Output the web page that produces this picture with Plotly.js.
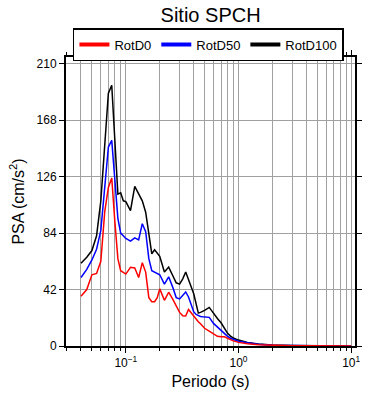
<!DOCTYPE html>
<html><head><meta charset="utf-8">
<script src="https://cdn.plot.ly/plotly-3.0.1.min.js"></script>
<style>html,body{margin:0;padding:0;background:#fff}#chart{width:390px;height:400px}</style>
</head><body><div id="chart"></div>
<script>
const periods = [0.04,0.045,0.05,0.055,0.06,0.065,0.07,0.075,0.08,0.085,0.09,0.095,0.1,0.11,0.12,0.13,0.14,0.15,0.16,0.17,0.18,0.19,0.2,0.22,0.24,0.26,0.28,0.3,0.32,0.34,0.36,0.38,0.4,0.42,0.44,0.46,0.48,0.5,0.55,0.6,0.65,0.7,0.75,0.8,0.85,0.9,1.0,1.2,1.5,2,3,4,5,7,10];
const rotD0 = [37,42,53,54,63,100,118,125,92,65,56,54.5,53.5,58.5,58,51,62,55,36,33,33,36,42.5,34,40,35,30,25,22.5,22.3,27.2,24.5,22,20,18,16.5,14.5,13.2,11,9,7.2,6.9,6.8,5.7,4.6,3.8,2.7,1.6,0.9,0.45,0.2,0.12,0.08,0.04,0.02];
const rotD50 = [51,57,64,72,86,120,148,153,122,95,84,82,80,78,80.5,79,91,85,65,56,55,53.5,53,46,51.5,44,36,35,38,40.2,36.5,31,25.5,23.5,22.5,22,21.8,21.7,21.3,16.8,14,11.5,9.5,7.2,5.8,4.9,3.6,2.4,1.3,0.6,0.25,0.15,0.1,0.05,0.03];
const rotD100 = [61.5,66,71,82,108,152,188,194,150,113,114,108,107.4,100.7,118.7,113,108,99.5,84,68.6,71.6,69,66.7,55,58.7,52.6,47,46,50,55,50,44,39,31,24.5,25,25.5,26.5,28.7,24.2,20.5,17.3,13,9.4,7.4,5.9,4.4,2.7,1.5,0.7,0.3,0.18,0.12,0.06,0.04];
const seriesNames = ['RotD0','RotD50','RotD100'];
const seriesColors = ['#ff0000','#0000ff','#000000'];
const xTickVals = [0.1,1,10];
const xTickText = ['10<sup>\u22121</sup>','10<sup>0</sup>','10<sup>1</sup>'];
const xMinorVals = [0.02,0.03,0.04,0.05,0.06,0.07,0.08,0.09,0.2,0.3,0.4,0.5,0.6,0.7,0.8,0.9,2,3,4,5,6,7,8,9];
const yTickVals = [0,42,84,126,168,210];

const seriesData = [rotD0, rotD50, rotD100];
const traces = [];
for (let i = 2; i >= 0; i--) {
  traces.push({x: periods, y: seriesData[i], type: 'scatter', mode: 'lines',
    line: {color: seriesColors[i], width: 1.5}, showlegend: false, hoverinfo: 'skip'});
}
for (let i = 0; i < 3; i++) {
  traces.push({x: [null], y: [null], type: 'scatter', mode: 'lines', name: seriesNames[i],
    line: {color: seriesColors[i], width: 4}, showlegend: true});
}
const grid = '#a0a0a0';
const font = {family: '"Liberation Sans", Arial, sans-serif', color: '#000'};
const layout = {
  width: 390, height: 400,
  margin: {l: 66, r: 35, t: 57, b: 54},
  paper_bgcolor: '#fff', plot_bgcolor: '#fff',
  font: Object.assign({size: 12}, font),
  title: {text: 'Sitio SPCH', x: 0.54, xanchor: 'center', y: 0.962, yanchor: 'middle',
    font: Object.assign({size: 20}, font)},
  showlegend: true,
  legend: {orientation: 'h', x: 0.024, xanchor: 'left', y: 1.10, yanchor: 'top',
    bordercolor: '#000', borderwidth: 1.5, bgcolor: '#fff',
    font: Object.assign({size: 13}, font), itemwidth: 30, traceorder: 'normal'},
  xaxis: {type: 'log', range: [-1.531, 1.034], tickmode: 'array', tickvals: xTickVals, ticktext: xTickText,
    ticks: 'outside', ticklen: 5, tickwidth: 1, tickcolor: '#000',
    showline: true, linecolor: '#000', linewidth: 2, mirror: 'ticks',
    showgrid: true, gridcolor: grid, gridwidth: 1, zeroline: false,
    tickfont: Object.assign({size: 12}, font),
    minor: {tickmode: 'array', tickvals: xMinorVals, ticks: 'outside', ticklen: 3, tickcolor: '#000',
      showgrid: true, gridcolor: grid, gridwidth: 1},
    title: {text: 'Periodo (s)', font: Object.assign({size: 16}, font), standoff: 6}},
  yaxis: {range: [0, 215], tickmode: 'array', tickvals: yTickVals,
    ticks: 'outside', ticklen: 5, tickwidth: 1, tickcolor: '#000',
    showline: true, linecolor: '#000', linewidth: 2, mirror: 'ticks',
    showgrid: true, gridcolor: grid, gridwidth: 1, zeroline: false,
    tickfont: Object.assign({size: 12}, font),
    title: {text: 'PSA (cm/s<sup>2</sup>)', font: Object.assign({size: 16}, font), standoff: 8}}
};
Plotly.newPlot('chart', traces, layout, {displayModeBar: false, staticPlot: true});
</script></body></html>
